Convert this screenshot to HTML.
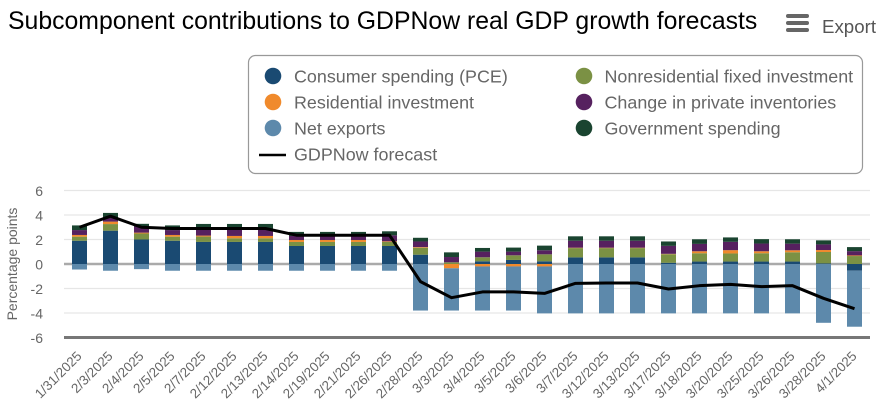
<!DOCTYPE html>
<html lang="en">
<head>
<meta charset="utf-8">
<title>Subcomponent contributions to GDPNow real GDP growth forecasts</title>
<style>
html,body{margin:0;padding:0;background:#fff;width:886px;height:418px;overflow:hidden}
svg{display:block;font-family:"Liberation Sans",Arial,sans-serif}
</style>
</head>
<body>
<svg id="chart" width="886" height="418" viewBox="0 0 886 418">
  <text x="8" y="29" font-size="24.8" fill="#000">Subcomponent contributions to GDPNow real GDP growth forecasts</text>
  <g>
    <rect x="786" y="14" width="23" height="4" rx="2" fill="#666"/>
    <rect x="786" y="21" width="23" height="4" rx="2" fill="#666"/>
    <rect x="786" y="28" width="23" height="4" rx="2" fill="#666"/>
  </g>
  <text x="822" y="33" font-size="18.7" fill="#555">Export</text>

  <g>
    <rect x="248.5" y="55.5" width="614" height="118" rx="7" fill="#fff" stroke="#999" stroke-width="1.2"/>
    <g font-size="17.9" fill="#666">
      <circle cx="273" cy="76" r="8.3" fill="#1a4a72"/>
      <text x="294" y="82.500">Consumer spending (PCE)</text>
      <circle cx="273" cy="102" r="8.3" fill="#f08a2c"/>
      <text x="294" y="108.500">Residential investment</text>
      <circle cx="273" cy="128" r="8.3" fill="#5d89ab"/>
      <text x="294" y="134.500">Net exports</text>
      <line x1="259" x2="286" y1="155" y2="155" stroke="#000" stroke-width="2.5"/>
      <text x="294" y="160.500">GDPNow forecast</text>
      <circle cx="584" cy="76" r="8.3" fill="#7b9144"/>
      <text x="604.500" y="82.500">Nonresidential fixed investment</text>
      <circle cx="584" cy="102" r="8.3" fill="#56215f"/>
      <text x="604.500" y="108.500">Change in private inventories</text>
      <circle cx="584" cy="128" r="8.3" fill="#1a4430"/>
      <text x="604.500" y="134.500">Government spending</text>
    </g>
  </g>

  <text transform="translate(17,264) rotate(-90)" text-anchor="middle" font-size="14" fill="#666">Percentage points</text>
  <g id="grid"></g>
  <g id="ylabels"></g>
  <g id="bars"></g>
  <g id="line"></g>
  <g id="xlabels"></g>
</svg>
<script>
const categories = ["1/31/2025","2/3/2025","2/4/2025","2/5/2025","2/7/2025","2/12/2025","2/13/2025","2/14/2025","2/19/2025","2/21/2025","2/26/2025","2/28/2025","3/3/2025","3/4/2025","3/5/2025","3/6/2025","3/7/2025","3/12/2025","3/13/2025","3/17/2025","3/18/2025","3/20/2025","3/25/2025","3/26/2025","3/28/2025","4/1/2025"];
const yTicks = [6,4,2,0,-2,-4,-6];
const pce = [1.9,2.72,2.0,1.9,1.8,1.8,1.8,1.47,1.47,1.47,1.47,0.76,0,0.22,0.33,0.22,0.54,0.54,0.54,0.1,0.2,0.2,0.2,0.2,0.05,-0.55];
const nonresidential = [0.33,0.54,0.49,0.33,0.44,0.3,0.3,0.33,0.33,0.33,0.33,0.57,0.14,0.33,0.38,0.57,0.76,0.76,0.76,0.7,0.68,0.66,0.68,0.76,0.93,0.65];
const residential = [0.14,0.2,0.07,0.14,0.08,0.19,0.19,0.16,0.16,0.16,0.05,0.05,-0.35,-0.2,-0.2,-0.2,0.03,0.03,0.03,0.03,0.16,0.27,0.16,0.16,0.16,0.05];
const inventories = [0.4,0.33,0.5,0.4,0.46,0.49,0.49,0.33,0.33,0.33,0.49,0.46,0.43,0.46,0.3,0.33,0.57,0.57,0.57,0.65,0.6,0.68,0.63,0.54,0.46,0.35];
const government = [0.38,0.38,0.22,0.38,0.49,0.49,0.49,0.33,0.33,0.33,0.33,0.3,0.38,0.3,0.33,0.38,0.36,0.36,0.36,0.36,0.38,0.36,0.36,0.36,0.33,0.33];
const netExports = [-0.45,-0.55,-0.42,-0.55,-0.55,-0.55,-0.55,-0.55,-0.55,-0.55,-0.55,-3.8,-3.45,-3.6,-3.6,-3.83,-4.03,-4.03,-4.03,-4.03,-4.03,-4.03,-4.03,-4.03,-4.8,-4.57];
const forecast = [3.0,3.9,3.0,2.9,2.9,2.9,2.9,2.35,2.35,2.35,2.35,-1.44,-2.75,-2.28,-2.28,-2.4,-1.58,-1.55,-1.55,-2.04,-1.77,-1.66,-1.85,-1.77,-2.8,-3.65];

const plotLeft = 64, plotRight = 870, zeroY = 264, unit = 12.25, barWidth = 15;
const stackOrder = [
  {name:'pce', values:pce, color:'#1a4a72'},
  {name:'nonresidential', values:nonresidential, color:'#7b9144'},
  {name:'residential', values:residential, color:'#f08a2c'},
  {name:'inventories', values:inventories, color:'#56215f'},
  {name:'government', values:government, color:'#1a4430'},
  {name:'net-exports', values:netExports, color:'#5d89ab'}
];
const NS = 'http://www.w3.org/2000/svg';
function yScale(v){ return zeroY - v * unit; }
function xScale(i){ return plotLeft + (plotRight - plotLeft) * (i + 0.5) / categories.length; }
function make(tag, attrs, parent){
  const el = document.createElementNS(NS, tag);
  for (const k in attrs) el.setAttribute(k, attrs[k]);
  parent.appendChild(el);
  return el;
}

const gridG = document.getElementById('grid');
const yLabelG = document.getElementById('ylabels');
yTicks.forEach(function(t){
  const isZero = t === 0, isBase = t === yTicks[yTicks.length - 1];
  const ln = make('line', {x1:plotLeft, x2:plotRight, y1:yScale(t), y2:yScale(t),
    stroke: isBase ? '#777' : isZero ? '#aaa' : '#e6e6e6',
    'stroke-width': isBase ? 3 : isZero ? 2.5 : 1.2}, gridG);
  
  
  const lb = make('text', {x:43, y:yScale(t) + 5.5, 'text-anchor':'end', 'font-size':14, fill:'#666'}, yLabelG);
  lb.textContent = String(t);
  
  
});

const barG = document.getElementById('bars');
categories.forEach(function(cat, i){
  let up = 0, down = 0;
  stackOrder.forEach(function(s){
    const v = s.values[i];
    if (!v) return;
    const start = v > 0 ? up : down;
    const end = start + v;
    if (v > 0) up = end; else down = end;
    const top = yScale(Math.max(start, end));
    const r = make('rect', {x:xScale(i) - barWidth / 2, y:top, width:barWidth,
      height:Math.abs(v) * unit, fill:s.color}, barG);
    
    
  });
});

const lineG = document.getElementById('line');
const path = make('polyline', {
  points: forecast.map(function(v, i){ return xScale(i) + ',' + yScale(v); }).join(' '),
  fill:'none', stroke:'#000', 'stroke-width':3, 'stroke-linejoin':'round'
}, lineG);



const xLabelG = document.getElementById('xlabels');
categories.forEach(function(cat, i){
  const ax = xScale(i) + 3, ay = 357;
  const t = make('text', {x:ax, y:ay, 'text-anchor':'end', 'font-size':13.4, fill:'#666',
    transform:'rotate(-45 ' + ax + ' ' + ay + ')'}, xLabelG);
  t.textContent = cat;
  
  
});
</script>
</body>
</html>
